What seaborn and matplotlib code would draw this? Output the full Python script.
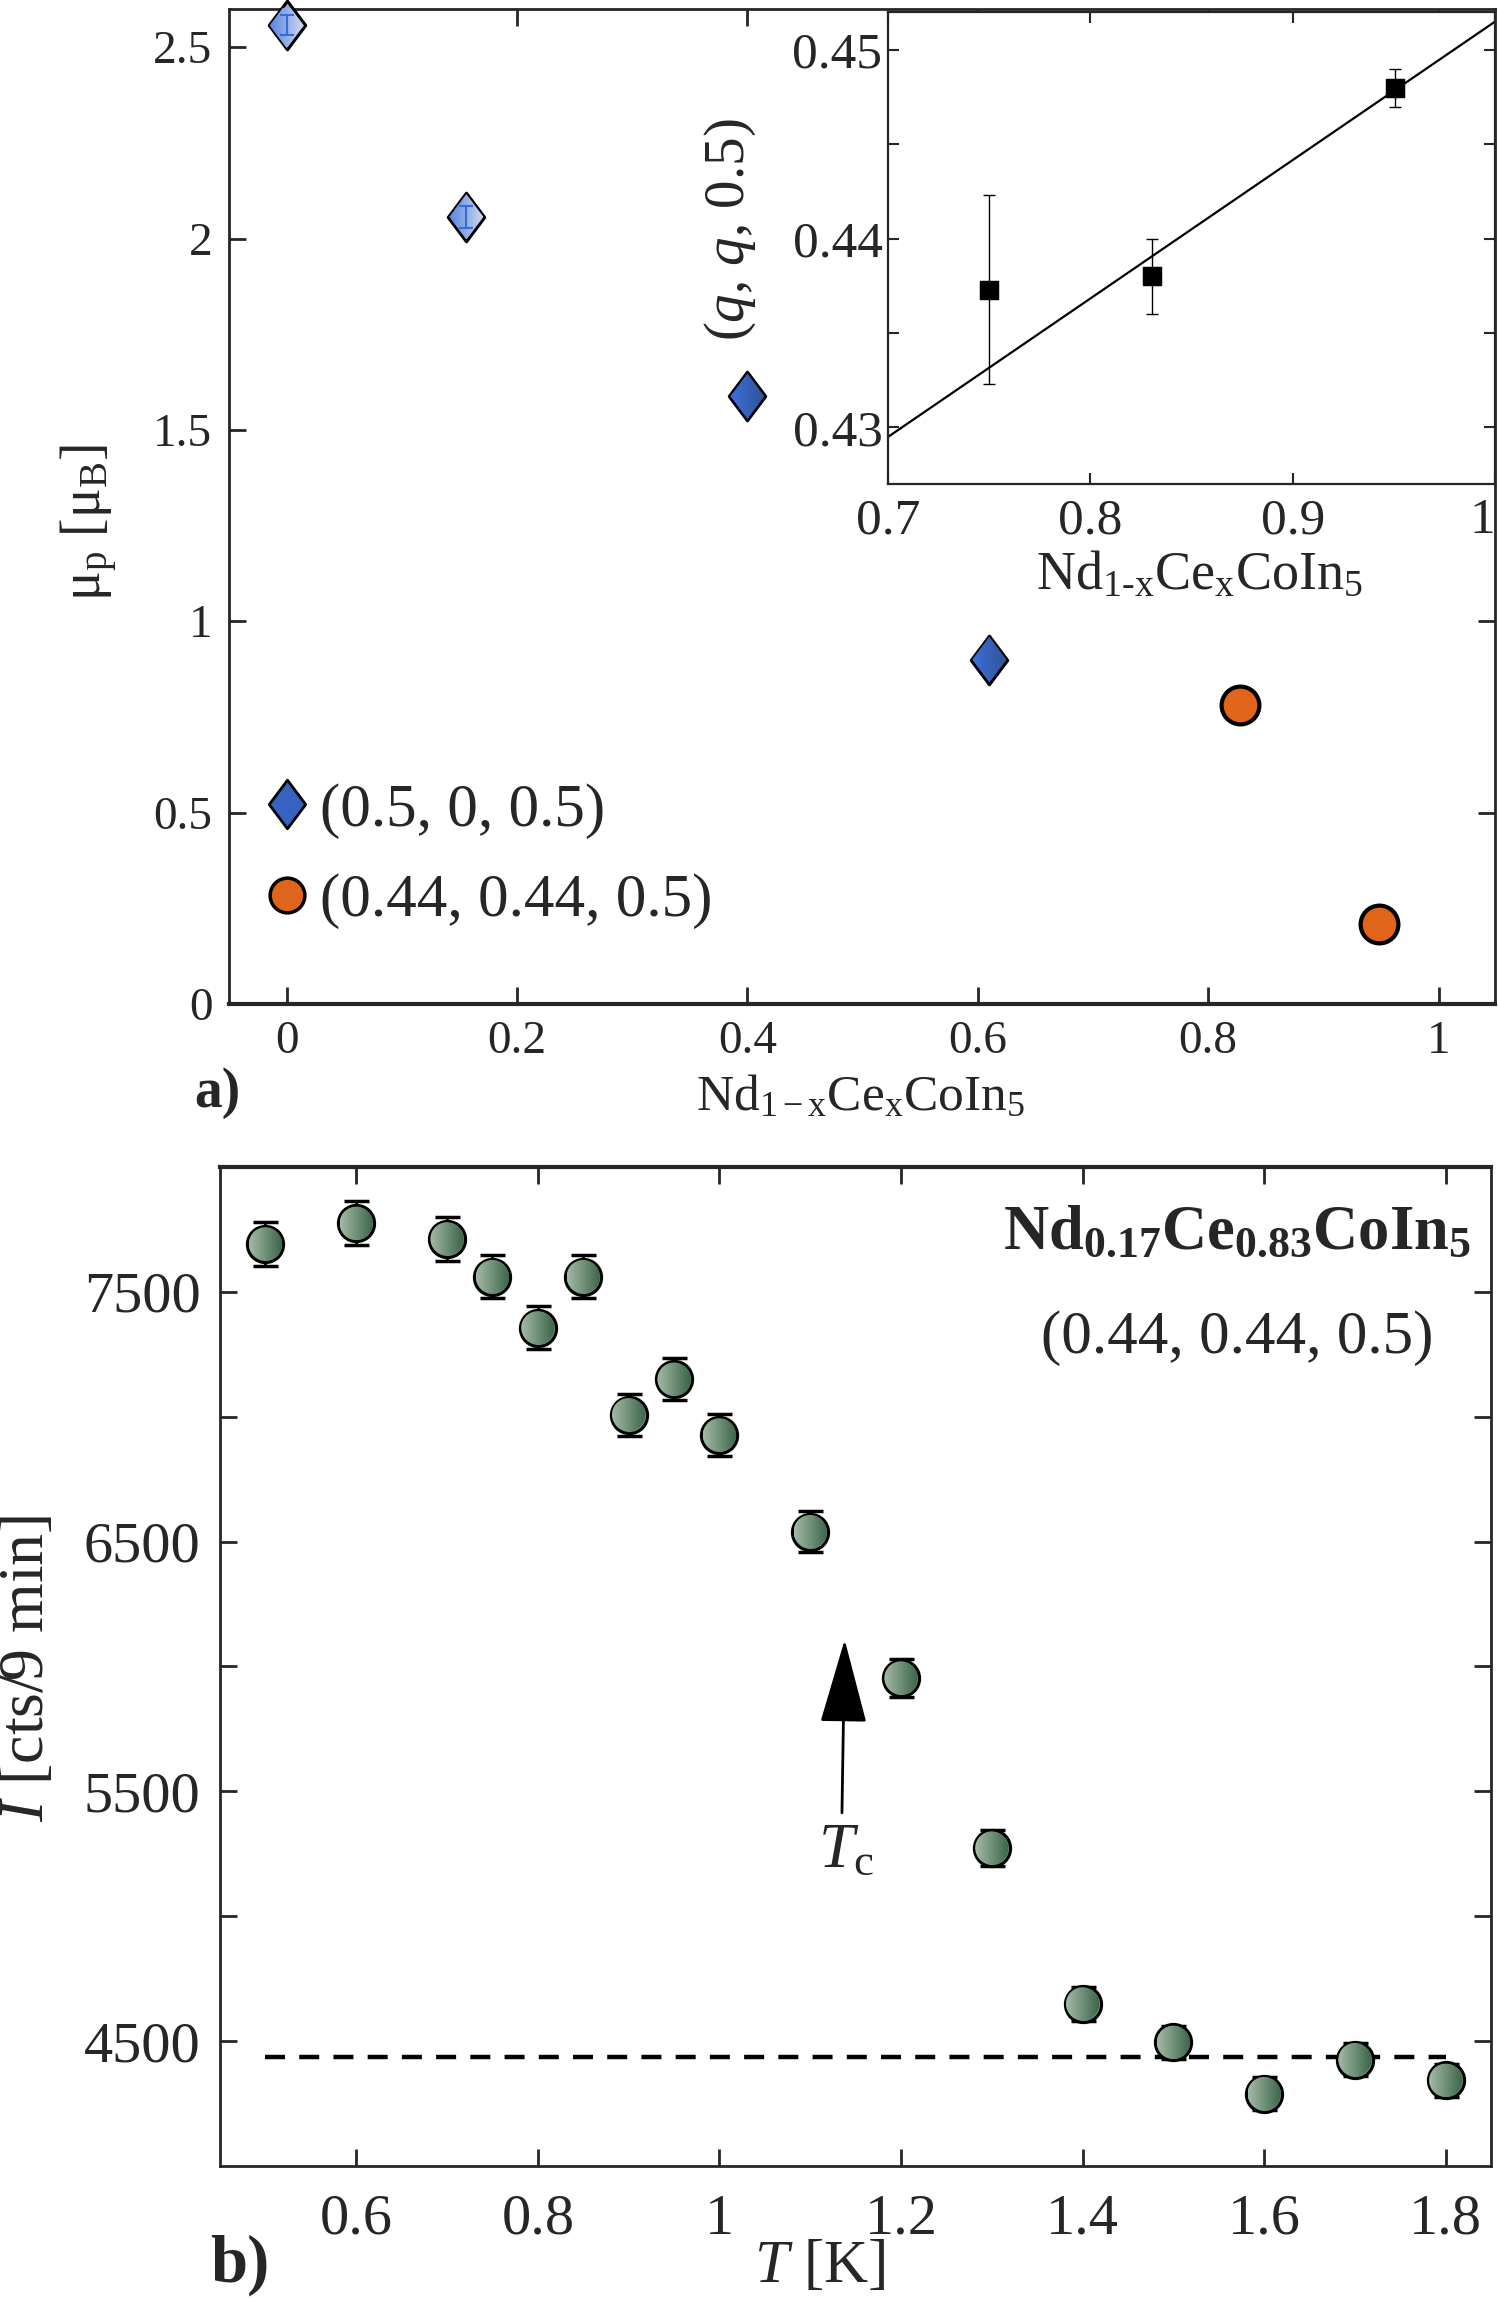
import numpy as np
import seaborn as sns
import matplotlib.pyplot as plt
from matplotlib.path import Path
from matplotlib.lines import Line2D
from matplotlib.patches import PathPatch
from matplotlib.colors import LinearSegmentedColormap
from matplotlib.transforms import IdentityTransform

# -------------------------------------------------------
# Data
# -------------------------------------------------------

# panel a) ordered moment vs Ce content
x_diamond = [0.0, 0.156, 0.40, 0.61]
mu_diamond = [2.557, 2.057, 1.588, 0.90]
mu_diamond_err = [0.026, 0.029]          # only visible on the two light points
x_circle = [0.828, 0.948]
mu_circle = [0.781, 0.209]

# inset: (q, q, 0.5) position vs x
x_inset = [0.750, 0.8305, 0.9506]
q_inset = [0.4373, 0.4380, 0.4480]
q_inset_err = [0.0050, 0.0020, 0.0010]
fit_x = [0.7, 1.0]
fit_y = [0.4295, 0.4515]

# panel b) peak intensity vs temperature
T = [0.5, 0.6, 0.7, 0.75, 0.8, 0.85, 0.9, 0.95, 1.0,
     1.1, 1.2, 1.3, 1.4, 1.5, 1.6, 1.7, 1.8]
I = [7692, 7774, 7712, 7561, 7356, 7561, 7008, 7150, 6927,
     6540, 5954, 5273, 4649, 4495, 4290, 4426, 4343]
I_err = [88, 88, 88, 87, 86, 87, 84, 85, 83,
         81, 77, 73, 68, 67, 66, 67, 66]
bg_T = [0.5, 1.8]
bg_I = [4438, 4438]

# -------------------------------------------------------
# Style
# -------------------------------------------------------
sns.set_style("ticks")
plt.rcParams["font.family"] = ["Liberation Serif", "DejaVu Serif"]
plt.rcParams["mathtext.fontset"] = "custom"
plt.rcParams["mathtext.rm"] = "Liberation Serif"
plt.rcParams["mathtext.it"] = "Liberation Serif:italic"
plt.rcParams["mathtext.bf"] = "Liberation Serif:bold"

BLUE_DARK = "#3862c0"
BLUE_LIGHT = "#93aee6"
ORANGE = "#e0651a"
GREEN = "#6b8f74"
GRAD_DARK = ["#3f72e6", "#2e4f8a"]
GRAD_LIGHT = ["#4677e0", "#e3e8ef"]
GRAD_GREEN = ["#a4baa6", "#3a6448"]

diamond = Path([(0, 1), (0.75, 0), (0, -1), (-0.75, 0), (0, 1)], closed=True)
circle = Path.unit_circle()

fig = plt.figure(figsize=(14.98, 23.02), dpi=100)


def gradient_fill(axis, xs, ys, marker_path, size_pt, colors, edge_px):
    """Paint a left-to-right colour ramp inside already drawn markers."""
    cmap = LinearSegmentedColormap.from_list("ramp", colors)
    ramp = np.linspace(0, 1, 128).reshape(1, -1)
    r = size_pt / 2 * fig.dpi / 72 - edge_px / 2
    verts = marker_path.vertices / np.abs(marker_path.vertices).max()
    for x, y in zip(xs, ys):
        px, py = axis.transData.transform((x, y))
        shape = Path(verts * r + [px, py], marker_path.codes)
        clip = PathPatch(shape, transform=IdentityTransform())
        (x0, y0), (x1, y1) = axis.transData.inverted().transform(
            [[px - r, py - r], [px + r, py + r]])
        im = axis.imshow(ramp, cmap=cmap, extent=[x0, x1, y0, y1],
                         aspect="auto", interpolation="bilinear", zorder=3.1)
        im.set_clip_box(None)
        im.set_clip_path(clip)


# -------------------------------------------------------
# Panel a)
# -------------------------------------------------------
ax = fig.add_axes([0.1529, 0.5639, 0.8451, 0.4322])

sns.scatterplot(x=x_diamond[:2], y=mu_diamond[:2], ax=ax, marker=diamond, s=1225,
                color=BLUE_LIGHT, edgecolor="k", linewidth=2.2, zorder=3,
                clip_on=False)
sns.scatterplot(x=x_diamond[2:], y=mu_diamond[2:], ax=ax, marker=diamond, s=1225,
                color=BLUE_DARK, edgecolor="k", linewidth=2.2, zorder=3)
ax.errorbar(x_diamond[:2], mu_diamond[:2], yerr=mu_diamond_err, fmt="none",
            ecolor="#3a6ad8", elinewidth=1.5, capsize=5, capthick=1.5, zorder=4)
sns.scatterplot(x=x_circle, y=mu_circle, ax=ax, marker="o", s=740,
                color=ORANGE, edgecolor="k", linewidth=3, zorder=3)

ax.set_xlim(-0.05, 1.049)
ax.set_ylim(0, 2.6)
ax.set_xticks([0, 0.2, 0.4, 0.6, 0.8, 1.0])
ax.set_xticklabels(["0", "0.2", "0.4", "0.6", "0.8", "1"])
ax.set_yticks([0, 0.5, 1, 1.5, 2, 2.5])
ax.set_yticklabels(["0", "0.5", "1", "1.5", "2", "2.5"])
ax.tick_params(direction="in", top=True, right=True, length=12, width=2,
               labelsize=34, pad=12)
for sp in ax.spines.values():
    sp.set_linewidth(2)
ax.spines["bottom"].set_linewidth(3)

gradient_fill(ax, x_diamond[:2], mu_diamond[:2], diamond, 35, GRAD_LIGHT, 3.2)
gradient_fill(ax, x_diamond[2:], mu_diamond[2:], diamond, 35, GRAD_DARK, 3.2)

ax.set_xlabel(r"Nd$_\mathrm{1-x}$Ce$_\mathrm{x}$CoIn$_\mathrm{5}$", fontsize=37)
ax.xaxis.set_label_coords(0.499, -0.071)
ax.set_ylabel(r"μ$_\mathrm{p}$ [μ$_\mathrm{B}$]", fontsize=40)
ax.yaxis.set_label_coords(-0.086, 0.484)

handles = [
    Line2D([], [], marker=diamond, markersize=35, markerfacecolor=BLUE_DARK,
           markeredgecolor="k", markeredgewidth=2, linestyle="none"),
    Line2D([], [], marker="o", markersize=25, markerfacecolor=ORANGE,
           markeredgecolor="k", markeredgewidth=2.5, linestyle="none"),
]
ax.legend(handles, ["(0.5, 0, 0.5)", "(0.44, 0.44, 0.5)"], loc="upper left",
          bbox_to_anchor=(0.03, 0.222), frameon=False, fontsize=44,
          handlelength=0.65, handletextpad=0.22, labelspacing=0.56,
          borderpad=0, borderaxespad=0)

fig.text(0.145, 0.5252, "a)", fontsize=40, fontweight="bold",
         ha="center", va="center")

# inset
axin = fig.add_axes([0.5928, 0.7897, 0.4052, 0.2050])
sns.lineplot(x=fit_x, y=fit_y, ax=axin, color="k", linewidth=1.6)
axin.errorbar(x_inset, q_inset, yerr=q_inset_err, fmt="none", ecolor="k",
              elinewidth=1, capsize=4, capthick=1, zorder=3)
sns.scatterplot(x=x_inset, y=q_inset, ax=axin, marker="s", s=170,
                color="k", edgecolor="k", zorder=4)
axin.set_xlim(0.7, 1.0)
axin.set_ylim(0.427, 0.452)
axin.set_xticks([0.7, 0.8, 0.9, 1.0])
axin.set_xticklabels(["0.7", "0.8", "0.9", "1"])
axin.get_xticklabels()[-1].set_horizontalalignment("right")
axin.set_yticks([0.43, 0.435, 0.44, 0.445, 0.45])
axin.set_yticklabels(["0.43", "", "0.44", "", "0.45"])
axin.tick_params(direction="in", top=True, right=True, length=8, width=1.5,
                 labelsize=37)
axin.tick_params(axis="y", pad=4)
axin.tick_params(axis="x", pad=10)
for sp in axin.spines.values():
    sp.set_linewidth(1.6)
axin.set_xlabel(r"Nd$_\mathrm{1\text{-}x}$Ce$_\mathrm{x}$CoIn$_\mathrm{5}$", fontsize=39)
axin.xaxis.set_label_coords(0.514, -0.14)
axin.set_ylabel(r"($q$, $q$, 0.5)", fontsize=41)
axin.yaxis.set_label_coords(-0.214, 0.539)

# -------------------------------------------------------
# Panel b)
# -------------------------------------------------------
bx = fig.add_axes([0.1469, 0.0591, 0.8485, 0.4340])

sns.lineplot(x=bg_T, y=bg_I, ax=bx, color="k", linewidth=3.2,
             linestyle=(0, (4.5, 3.2)), zorder=1)
bx.errorbar(T, I, yerr=I_err, fmt="none", ecolor="k", elinewidth=2,
            capsize=9, capthick=2.5, zorder=2)
sns.scatterplot(x=T, y=I, ax=bx, marker="o", s=680, color=GREEN,
                edgecolor="k", linewidth=2.2, zorder=3)

bx.set_xlim(0.45, 1.85)
bx.set_ylim(4000, 8000)
gradient_fill(bx, T, I, circle, np.sqrt(680), GRAD_GREEN, 3.0)

bx.annotate("", xy=(1.138, 6107), xytext=(1.135, 5414),
            arrowprops=dict(arrowstyle="-|>,head_length=2.7,head_width=0.75",
                            mutation_scale=20, color="k", lw=2,
                            shrinkA=0, shrinkB=0))
bx.text(1.14, 5257, r"$T_\mathrm{c}$", fontsize=46, ha="center", va="center")

bx.text(0.984, 0.933, r"$\mathbf{Nd_{0.17}Ce_{0.83}CoIn_5}$", transform=bx.transAxes,
        fontsize=45, ha="right", va="center")
bx.text(0.800, 0.829, "(0.44, 0.44, 0.5)", transform=bx.transAxes,
        fontsize=44, ha="center", va="center")

bx.set_xticks([0.6, 0.8, 1.0, 1.2, 1.4, 1.6, 1.8])
bx.set_xticklabels(["0.6", "0.8", "1", "1.2", "1.4", "1.6", "1.8"])
bx.set_yticks([4500, 5000, 5500, 6000, 6500, 7000, 7500])
bx.set_yticklabels(["4500", "", "5500", "", "6500", "", "7500"])
bx.tick_params(direction="in", top=True, right=True, length=12, width=2,
               labelsize=42)
bx.tick_params(axis="y", pad=14)
bx.tick_params(axis="x", pad=20)
for sp in bx.spines.values():
    sp.set_linewidth(2)
bx.spines["top"].set_linewidth(3)

bx.set_xlabel(r"$T$ [K]", fontsize=44)
bx.xaxis.set_label_coords(0.472, -0.074)
bx.set_ylabel(r"$I$ [cts/9 min]", fontsize=46)
bx.yaxis.set_label_coords(-0.128, 0.4985)

fig.text(0.160, 0.016, "b)", fontsize=48, fontweight="bold",
         ha="center", va="center")

plt.savefig("out.png", dpi=100)
